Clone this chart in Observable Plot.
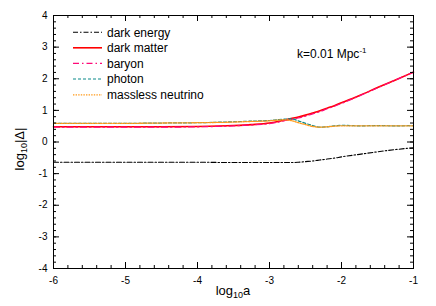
<!DOCTYPE html>
<html><head><meta charset="utf-8">
<script src="https://cdn.jsdelivr.net/npm/d3@7"></script>
<script src="https://cdn.jsdelivr.net/npm/@observablehq/plot@0.6"></script>
<style>body{margin:0;background:#fff} #chart{width:436px;height:306px}</style>
</head><body><div id="chart"></div>
<script>
// x: log10 a
const logA = [-6, -5.5, -5, -4.5, -4, -3.5, -3.25, -3, -2.9, -2.8, -2.7, -2.6, -2.5, -2.4, -2.3, -2.2, -2.1, -2, -1.75, -1.5, -1.25, -1];
const darkEnergy = [-0.64, -0.64, -0.64, -0.64, -0.64, -0.65, -0.65, -0.65, -0.65, -0.65, -0.65, -0.64, -0.62, -0.60, -0.57, -0.54, -0.51, -0.47, -0.39, -0.31, -0.24, -0.18];
const darkMatter = [0.48, 0.48, 0.48, 0.48, 0.49, 0.52, 0.55, 0.60, 0.64, 0.69, 0.74, 0.79, 0.85, 0.92, 0.99, 1.07, 1.15, 1.24, 1.47, 1.72, 1.96, 2.21];
const baryon = [0.47, 0.47, 0.47, 0.47, 0.48, 0.51, 0.54, 0.58, 0.62, 0.67, 0.71, 0.76, 0.82, 0.89, 0.96, 1.05, 1.13, 1.22, 1.46, 1.71, 1.96, 2.21];
const photon = [0.59, 0.59, 0.59, 0.60, 0.61, 0.64, 0.66, 0.68, 0.70, 0.72, 0.73, 0.67, 0.59, 0.52, 0.47, 0.48, 0.51, 0.53, 0.51, 0.52, 0.51, 0.52];
const neutrino = [0.59, 0.59, 0.59, 0.60, 0.61, 0.63, 0.65, 0.67, 0.69, 0.70, 0.68, 0.61, 0.55, 0.49, 0.47, 0.48, 0.50, 0.51, 0.51, 0.51, 0.51, 0.51];
const seriesNames = ["dark energy", "dark matter", "baryon", "photon", "massless neutrino"];
const xMajor = [-6, -5, -4, -3, -2, -1];
const yMajor = [-4, -3, -2, -1, 0, 1, 2, 3, 4];

const rows = logA.map((x, i) => ({x, de: darkEnergy[i], dm: darkMatter[i], b: baryon[i], g: photon[i], nu: neutrino[i]}));
const xMinor = d3.range(-6, -0.99, 0.2).map(v => +v.toFixed(2));
const yMinor = d3.range(-4, 4.01, 0.2).map(v => +v.toFixed(2));

const W = 436, H = 306, mL = 53, mR = 23, mT = 15, mB = 38;
const fw = W - mL - mR, fh = H - mT - mB;
const font = "'Liberation Sans', Arial, Helvetica, sans-serif";

const styles = [
  {key: "de", stroke: "#000000", dash: "5,2,1.5,2", width: 1.1},
  {key: "dm", stroke: "#ff0000", dash: null, width: 1.6},
  {key: "b", stroke: "#ff0a78", dash: "6,3,1.5,3", width: 1.2},
  {key: "g", stroke: "#0a8a8a", dash: "3,2", width: 1.2},
  {key: "nu", stroke: "#ff9a1a", dash: "1.4,1.2", width: 1.3}
];

const plot = Plot.plot({
  width: W, height: H,
  marginLeft: mL, marginRight: mR, marginTop: mT, marginBottom: mB,
  style: {fontFamily: font, fontSize: "10px", background: "white", color: "#000"},
  x: {domain: [-6, -1]},
  y: {domain: [-4, 4]},
  marks: [
    ...styles.map(s => Plot.line(rows, {x: "x", y: s.key, stroke: s.stroke, strokeWidth: s.width, strokeDasharray: s.dash, curve: "monotone-x"})),
    Plot.tickX(xMinor, {x: d => d, insetTop: fh - 3, stroke: "#000"}),
    Plot.tickX(xMinor, {x: d => d, insetBottom: fh - 3, stroke: "#000"}),
    Plot.tickX(xMajor, {x: d => d, insetTop: fh - 6, stroke: "#000"}),
    Plot.tickX(xMajor, {x: d => d, insetBottom: fh - 6, stroke: "#000"}),
    Plot.tickY(yMinor, {y: d => d, insetRight: fw - 3, stroke: "#000"}),
    Plot.tickY(yMinor, {y: d => d, insetLeft: fw - 3, stroke: "#000"}),
    Plot.tickY(yMajor, {y: d => d, insetRight: fw - 6, stroke: "#000"}),
    Plot.tickY(yMajor, {y: d => d, insetLeft: fw - 6, stroke: "#000"}),
    Plot.axisX(xMajor, {tickSize: 0, tickPadding: 8, tickFormat: d => String(d), label: null, fontSize: 10}),
    Plot.axisY(yMajor, {tickSize: 0, tickPadding: 6, tickFormat: d => String(d), label: null, fontSize: 10}),
    Plot.frame({stroke: "#000", strokeWidth: 1})
  ]
});

const svg = d3.select(plot);
// axis titles with subscripts
const xl = svg.append("text").attr("x", 233).attr("y", 295).attr("text-anchor", "middle")
  .attr("font-family", font).attr("font-size", 13).attr("fill", "#000");
xl.append("tspan").text("log");
xl.append("tspan").attr("font-size", 9).attr("dy", 3).text("10");
xl.append("tspan").attr("dy", -3).text("a");

const yl = svg.append("text").attr("transform", "translate(24,149) rotate(-90)").attr("text-anchor", "middle")
  .attr("font-family", font).attr("font-size", 13).attr("fill", "#000");
yl.append("tspan").text("log");
yl.append("tspan").attr("font-size", 9).attr("dy", 3).text("10");
yl.append("tspan").attr("dy", -3).text("|Δ|");

// annotation
const ann = svg.append("text").attr("x", 297).attr("y", 57.5).attr("text-anchor", "start")
  .attr("font-family", font).attr("font-size", 12).attr("fill", "#000");
ann.append("tspan").text("k=0.01 Mpc");
ann.append("tspan").attr("font-size", 8).attr("dy", -5).text("-1");

// legend
const legY = [32.3, 47.8, 63.3, 79, 94.8];
const leg = svg.append("g");
seriesNames.forEach((name, i) => {
  const s = styles[i];
  leg.append("line").attr("x1", 73).attr("x2", 102).attr("y1", legY[i]).attr("y2", legY[i])
    .attr("stroke", s.stroke).attr("stroke-width", s.width).attr("stroke-dasharray", s.dash);
  leg.append("text").attr("x", 107).attr("y", legY[i] + 4.3).attr("text-anchor", "start")
    .attr("font-family", font).attr("font-size", 12).attr("fill", "#000").text(name);
});

document.getElementById("chart").appendChild(plot);
</script>
</body></html>
